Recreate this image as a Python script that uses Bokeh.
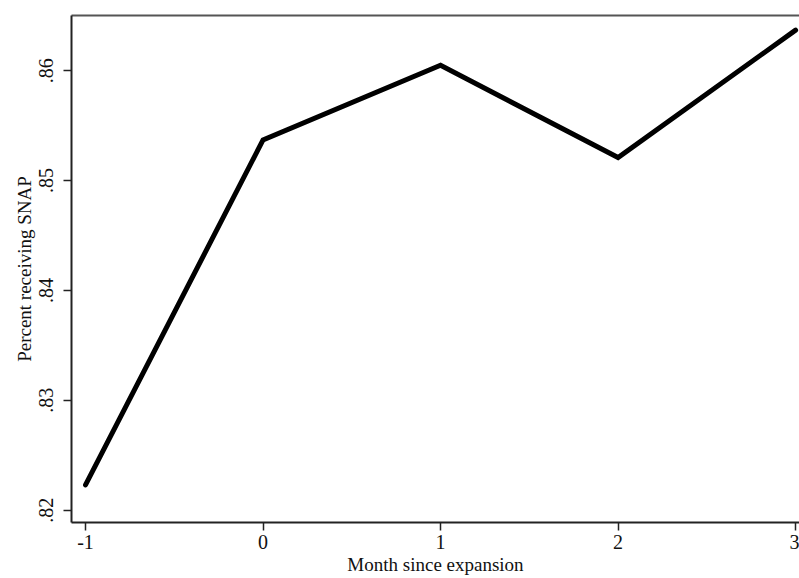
from bokeh.plotting import figure
from bokeh.models import Range1d, FixedTicker, LinearAxis
from bokeh.embed import file_html
from bokeh.resources import INLINE

months = [-1, 0, 1, 2, 3]
snap_share = [0.8223, 0.8537, 0.8605, 0.8521, 0.8637]

x_ticks = [-1, 0, 1, 2, 3]
x_tick_labels = ["-1", "0", "1", "2", "3"]
y_ticks = [0.82, 0.83, 0.84, 0.85, 0.86]
y_tick_labels = [".82", ".83", ".84", ".85", ".86"]

FONT = "Liberation Serif"

p = figure(width=799, height=578, output_backend="svg", toolbar_location=None,
           x_range=Range1d(-1.079, 3.022), y_range=Range1d(0.81888, 0.86503),
           min_border_left=71, min_border_right=0, min_border_top=15, min_border_bottom=56)
p.outline_line_color = None
p.grid.visible = False
p.background_fill_color = "white"
p.border_fill_color = "white"

p.line(months, snap_share, line_color="black", line_width=5, line_join="miter", line_cap="round")

for ax in (p.xaxis[0], p.yaxis[0]):
    ax.axis_line_width = 2
    ax.axis_line_color = "#222222"
    ax.major_tick_line_color = "#222222"
    ax.major_tick_line_width = 1.5
    ax.major_tick_in = 0
    ax.major_tick_out = 8
    ax.minor_tick_line_color = None
    ax.major_label_text_font = FONT
    ax.major_label_text_font_size = "20px"
    ax.major_label_text_color = "#111111"
    ax.axis_label_text_font = FONT
    ax.axis_label_text_font_size = "19px"
    ax.axis_label_text_font_style = "normal"
    ax.axis_label_text_color = "#111111"

p.xaxis[0].ticker = FixedTicker(ticks=x_ticks)
p.xaxis[0].major_label_overrides = dict(zip(x_ticks, x_tick_labels))
p.xaxis[0].axis_label = "Month since expansion"
p.xaxis[0].major_label_standoff = 4
p.xaxis[0].axis_label_standoff = 2

p.yaxis[0].ticker = FixedTicker(ticks=y_ticks)
p.yaxis[0].major_label_overrides = dict(zip(y_ticks, y_tick_labels))
p.yaxis[0].major_label_orientation = "vertical"
p.yaxis[0].axis_label = "Percent receiving SNAP"
p.yaxis[0].major_label_standoff = 10
p.yaxis[0].axis_label_standoff = 2

top = LinearAxis(ticker=FixedTicker(ticks=[]), axis_line_color="#555555", axis_line_width=2,
                 major_tick_line_color=None, minor_tick_line_color=None,
                 major_label_text_font_size="0px")
p.add_layout(top, "above")

open("out.html", "w").write(file_html(p, INLINE))
